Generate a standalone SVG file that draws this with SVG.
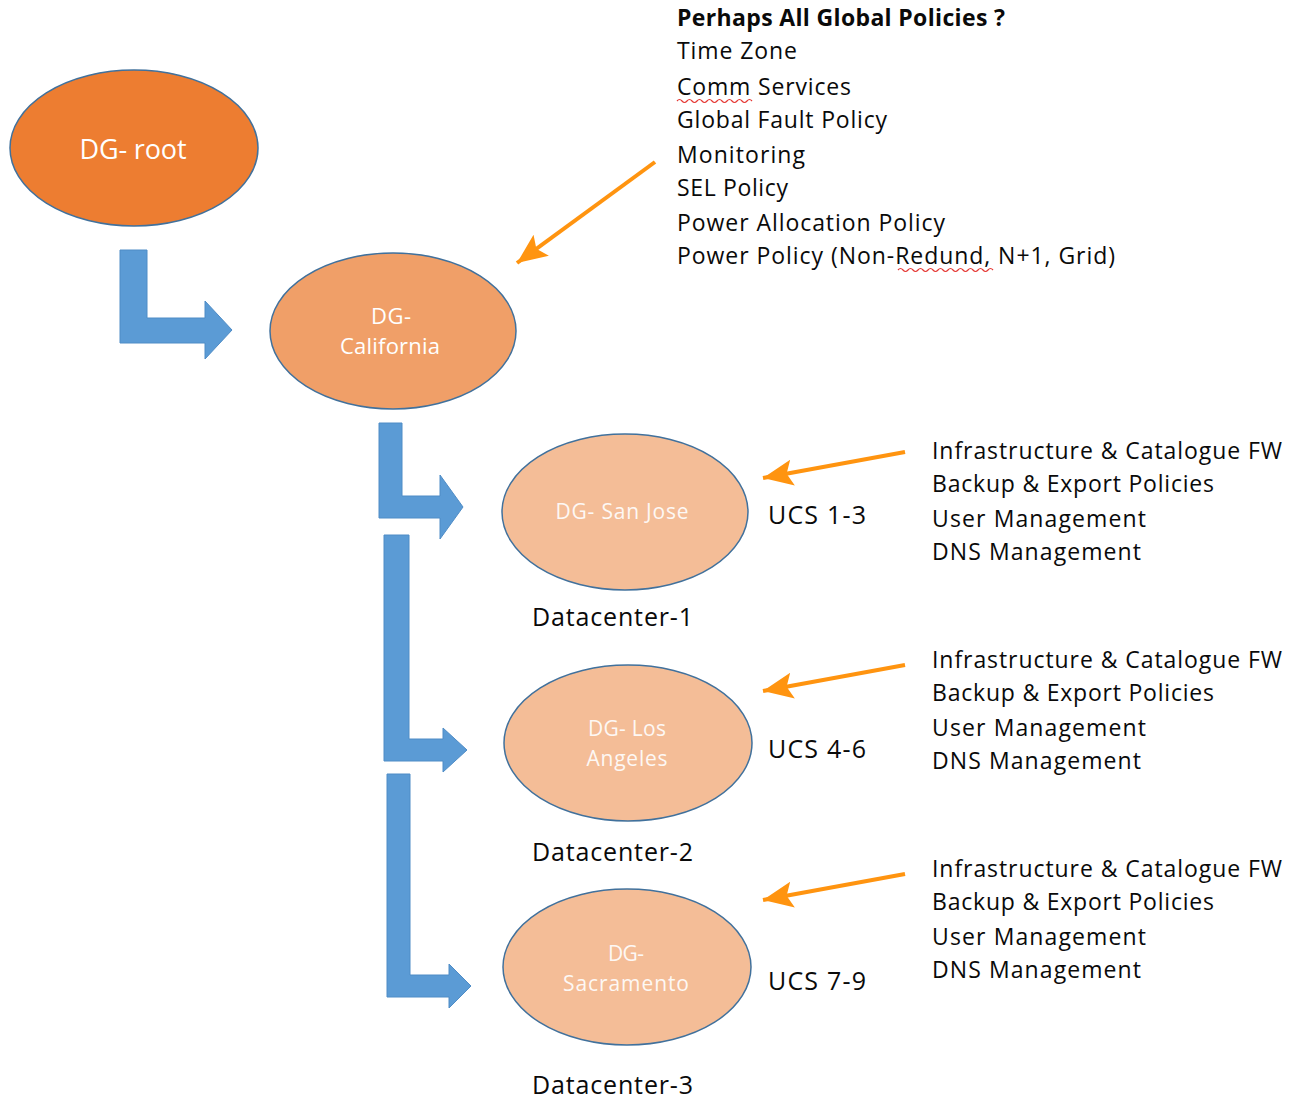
<svg xmlns="http://www.w3.org/2000/svg" width="1303" height="1099" viewBox="0 0 1303 1099">
  <defs>
    <style>
      .node { stroke: #41719C; stroke-width: 1.5; }
      .root { fill: #ED7D31; }
      .mid { fill: #F09F68; }
      .leaf { fill: #F4BD97; }
      .ntext { font-family: "Open Sans", Lato, sans-serif; fill: #FFFFFF; text-anchor: middle; }
      .txt { font-family: "Open Sans", Lato, sans-serif; font-size: 23px; fill: #0A0A0A; }
      .ucs { font-size: 25px; }
      .big { font-size: 25px; }
      .bold { font-weight: bold; }
      .flow { fill: #5B9BD5; stroke: #4F8CC6; stroke-width: 1; }
      .ptr { fill: none; stroke: #FF9410; stroke-width: 4; }
      .squig { fill: none; stroke: #E53935; stroke-width: 1.2; }
    </style>
    <marker id="head" markerUnits="userSpaceOnUse" markerWidth="34" markerHeight="30" refX="30" refY="15" orient="auto">
      <path d="M0,2 L30,15 L0,28 L6,15 Z" fill="#FF9410"/>
    </marker>
  </defs>

  <!-- group nodes -->
  <g id="dg-root">
    <ellipse class="node root" cx="134" cy="148" rx="124" ry="78"/>
    <text class="ntext" x="133" y="159" font-size="27" textLength="107">DG- root</text>
  </g>
  <g id="dg-california">
    <ellipse class="node mid" cx="393" cy="331" rx="123" ry="78"/>
    <text class="ntext" x="391" y="324" font-size="22" textLength="40">DG-</text>
    <text class="ntext" x="390" y="354" font-size="22" textLength="100">California</text>
  </g>
  <g id="dg-san-jose">
    <ellipse class="node leaf" cx="625" cy="512" rx="123" ry="78"/>
    <text class="ntext" x="622" y="519" font-size="21" opacity="0.9" textLength="133">DG- San Jose</text>
  </g>
  <g id="dg-los-angeles">
    <ellipse class="node leaf" cx="628" cy="743" rx="124" ry="78"/>
    <text class="ntext" x="627" y="736" font-size="21" opacity="0.9" textLength="78">DG- Los</text>
    <text class="ntext" x="627" y="766" font-size="21" opacity="0.9" textLength="81">Angeles</text>
  </g>
  <g id="dg-sacramento">
    <ellipse class="node leaf" cx="627" cy="967" rx="124" ry="78"/>
    <text class="ntext" x="626" y="961" font-size="21" opacity="0.9" textLength="36">DG-</text>
    <text class="ntext" x="626" y="991" font-size="21" opacity="0.9" textLength="126">Sacramento</text>
  </g>

  <!-- labels beside the leaf groups -->
  <g id="labels">
    <text class="txt ucs" x="768" y="524" textLength="98">UCS 1-3</text>
    <text class="txt big" x="532" y="626" textLength="161">Datacenter-1</text>
    <text class="txt ucs" x="768" y="758" textLength="98">UCS 4-6</text>
    <text class="txt big" x="532" y="861" textLength="161">Datacenter-2</text>
    <text class="txt ucs" x="768" y="990" textLength="98">UCS 7-9</text>
    <text class="txt big" x="532" y="1094" textLength="161">Datacenter-3</text>
  </g>

  <!-- global policy list -->
  <g id="global-policies">
    <text class="txt bold" x="677" y="26" textLength="328">Perhaps All Global Policies ?</text>
    <text class="txt" x="677" y="59" textLength="120">Time Zone</text>
    <text class="txt" x="677" y="95" textLength="174">Comm Services</text>
    <text class="txt" x="677" y="128" textLength="210">Global Fault Policy</text>
    <text class="txt" x="677" y="163" textLength="128">Monitoring</text>
    <text class="txt" x="677" y="196" textLength="111">SEL Policy</text>
    <text class="txt" x="677" y="231" textLength="268">Power Allocation Policy</text>
    <text class="txt" x="677" y="264" textLength="438">Power Policy (Non-Redund, N+1, Grid)</text>
    <path class="squig" d="M677,101 q2.5,-3 5,0 t5,0 t5,0 t5,0 t5,0 t5,0 t5,0 t5,0 t5,0 t5,0 t5,0 t5,0 t5,0 t5,0 t5,0"/>
    <path class="squig" d="M898,270 q2.5,-3 5,0 t5,0 t5,0 t5,0 t5,0 t5,0 t5,0 t5,0 t5,0 t5,0 t5,0 t5,0 t5,0 t5,0 t5,0 t5,0 t5,0 t5,0 t5,0"/>
  </g>

  <!-- per-datacenter policy lists -->
  <g id="policies-1">
    <text class="txt" x="932" y="459" textLength="350">Infrastructure &amp; Catalogue FW</text>
    <text class="txt" x="932" y="492" textLength="282">Backup &amp; Export Policies</text>
    <text class="txt" x="932" y="527" textLength="214">User Management</text>
    <text class="txt" x="932" y="560" textLength="209">DNS Management</text>
  </g>
  <g id="policies-2">
    <text class="txt" x="932" y="668" textLength="350">Infrastructure &amp; Catalogue FW</text>
    <text class="txt" x="932" y="701" textLength="282">Backup &amp; Export Policies</text>
    <text class="txt" x="932" y="736" textLength="214">User Management</text>
    <text class="txt" x="932" y="769" textLength="209">DNS Management</text>
  </g>
  <g id="policies-3">
    <text class="txt" x="932" y="877" textLength="350">Infrastructure &amp; Catalogue FW</text>
    <text class="txt" x="932" y="910" textLength="282">Backup &amp; Export Policies</text>
    <text class="txt" x="932" y="945" textLength="214">User Management</text>
    <text class="txt" x="932" y="978" textLength="209">DNS Management</text>
  </g>

  <!-- connectors -->
  <g id="connectors">
    <!-- bent hierarchy arrows -->
    <path class="flow" d="M120,250 H147 V318 H205 V301 L232,330 L205,359 V343 H120 Z"/>
    <path class="flow" d="M379,423 H402 V496 H440 V475 L463,507 L440,539 V518 H379 Z"/>
    <path class="flow" d="M384,535 H409 V739 H443 V728 L467,750 L443,772 V761 H384 Z"/>
    <path class="flow" d="M387,774 H410 V975 H449 V964 L471,986 L449,1008 V997 H387 Z"/>
    <!-- policy pointers -->
    <line class="ptr" x1="655" y1="162" x2="517" y2="263" marker-end="url(#head)"/>
    <line class="ptr" x1="905" y1="452" x2="763" y2="478" marker-end="url(#head)"/>
    <line class="ptr" x1="905" y1="665" x2="763" y2="691" marker-end="url(#head)"/>
    <line class="ptr" x1="905" y1="874" x2="763" y2="900" marker-end="url(#head)"/>
  </g>
</svg>
